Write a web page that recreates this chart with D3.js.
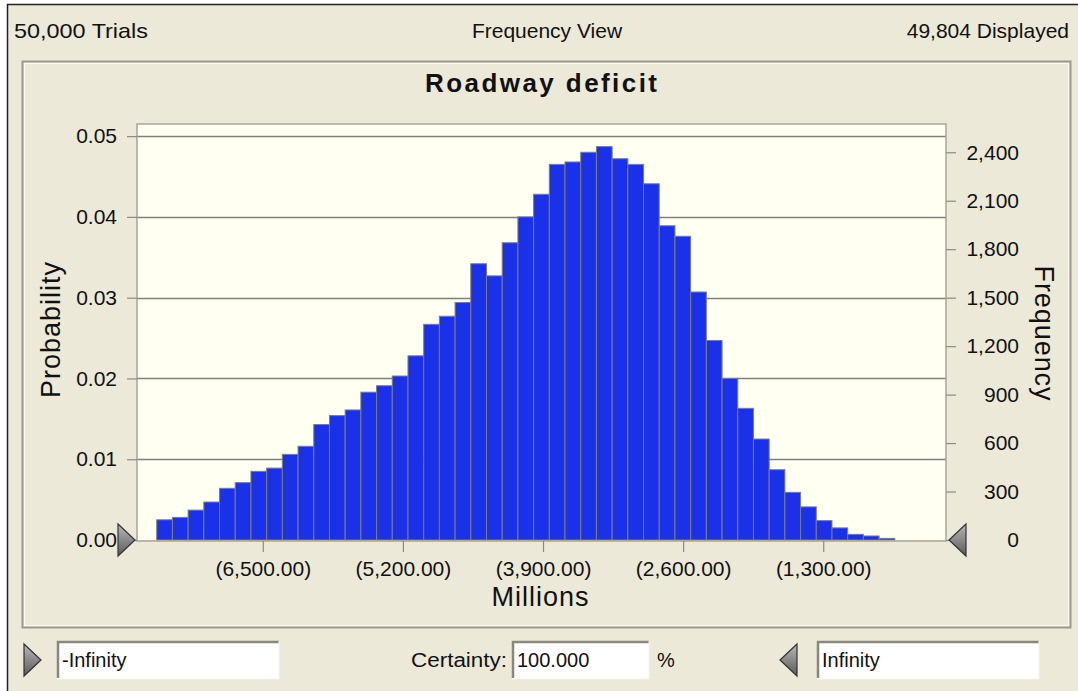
<!DOCTYPE html>
<html>
<head>
<meta charset="utf-8">
<script src="https://cdn.jsdelivr.net/npm/d3@7"></script>
<style>
  body { margin: 0; background: #fff; }
  text { font-family: "Liberation Sans", Arial, sans-serif; fill: #111; }
</style>
</head>
<body>
<script>
// histogram of the simulated deficit (probability per bin)
const probabilities = [
  0.0025, 0.0028, 0.0037, 0.0047, 0.0064, 0.0071, 0.0085, 0.0089, 0.0106, 0.0116,
  0.0143, 0.0154, 0.0161, 0.0183, 0.0191, 0.0203, 0.0228, 0.0267, 0.0277, 0.0294,
  0.0342, 0.0327, 0.0368, 0.0400, 0.0428, 0.0465, 0.0468, 0.0480, 0.0487, 0.0472,
  0.0465, 0.0441, 0.0389, 0.0376, 0.0307, 0.0247, 0.0200, 0.0163, 0.0125, 0.0087,
  0.0059, 0.0041, 0.0024, 0.0015, 0.0007, 0.0005, 0.0002
];
// bins (millions)
const binStart = -7484;
const binWidth = 145.7;
const xTicks = [-6500, -5200, -3900, -2600, -1300];
const probTicks = [0, 0.01, 0.02, 0.03, 0.04, 0.05];
const freqTicks = [0, 300, 600, 900, 1200, 1500, 1800, 2100, 2400];
const trials = 50000;
const headerTexts = ['50,000 Trials', 'Frequency View', '49,804 Displayed'];
const chartTitle = 'Roadway deficit';

const W = 1078, H = 691;
const plot = {left: 137, right: 946, top: 124, bottom: 540};

const svg = d3.select('body').append('svg')
  .attr('width', W)
  .attr('height', H);

// window background + dark edge
svg.append('rect').attr('x', 7).attr('y', 4).attr('width', W).attr('height', H)
  .attr('fill', '#ece9d8');
svg.append('path').attr('d', `M7.5,${H} V4.5 H${W}`)
  .attr('fill', 'none').attr('stroke', '#222').attr('stroke-width', 1.5);

// header line
const header = svg.append('g').style('font-size', '21px');
header.append('text').attr('x', 14).attr('y', 38).attr('textLength', 134).attr('lengthAdjust', 'spacingAndGlyphs').text(headerTexts[0]);
header.append('text').attr('x', 547).attr('y', 38).attr('text-anchor', 'middle').text(headerTexts[1]);
header.append('text').attr('x', 1069).attr('y', 38).attr('text-anchor', 'end').text(headerTexts[2]);

// panel frame
svg.append('rect').attr('x', 22.5).attr('y', 61.5).attr('width', 1048).attr('height', 566)
  .attr('fill', 'none').attr('stroke', '#9d9a8c').attr('stroke-width', 2);
svg.append('rect').attr('x', 24.5).attr('y', 63.5).attr('width', 1044).attr('height', 562)
  .attr('fill', 'none').attr('stroke', '#fbfaf4').attr('stroke-width', 1);

svg.append('text')
  .attr('x', 541).attr('y', 92)
  .attr('text-anchor', 'middle')
  .attr('textLength', 232)
  .style('font-size', '26px').style('font-weight', 'bold')
  .text(chartTitle);

// scales
const x = d3.scaleLinear().domain([-7667, -161]).range([plot.left, plot.right]);
const y = d3.scaleLinear().domain([0, 0.0515]).range([plot.bottom, plot.top]);
const yFreq = d3.scaleLinear().domain([0, 0.0515 * trials]).range([plot.bottom, plot.top]);

// plot background
svg.append('rect')
  .attr('x', plot.left).attr('y', plot.top)
  .attr('width', plot.right - plot.left).attr('height', plot.bottom - plot.top)
  .attr('fill', '#fffff2');

// gridlines
svg.append('g').selectAll('line')
  .data(probTicks.slice(1))
  .enter().append('line')
  .attr('x1', plot.left).attr('x2', plot.right)
  .attr('y1', (d) => Math.round(y(d)) + 0.5).attr('y2', (d) => Math.round(y(d)) + 0.5)
  .attr('stroke', '#7f7f7f').attr('stroke-width', 1.5);

// bars
svg.append('g').selectAll('rect')
  .data(probabilities)
  .enter().append('rect')
  .attr('x', (d, i) => x(binStart + i * binWidth))
  .attr('width', (d, i) => x(binStart + (i + 1) * binWidth) - x(binStart + i * binWidth))
  .attr('y', (d) => y(d))
  .attr('height', (d) => y(0) - y(d))
  .attr('fill', '#1b31e9')
  .attr('stroke', '#7d7d7d')
  .attr('stroke-width', 1);

// plot border
svg.append('rect')
  .attr('x', plot.left).attr('y', plot.top)
  .attr('width', plot.right - plot.left).attr('height', plot.bottom - plot.top + 1)
  .attr('fill', 'none').attr('stroke', '#a8a596').attr('stroke-width', 1.5);

const styleAxis = (g) => {
  g.select('.domain').remove();
  g.selectAll('line').attr('stroke', '#8a8a8a').attr('stroke-width', 1.2);
  g.selectAll('text').style('font-family', '"Liberation Sans", Arial, sans-serif').attr('fill', '#111');
};

// left axis
svg.append('g')
  .attr('transform', `translate(${plot.left},0)`)
  .call(d3.axisLeft(y).tickValues(probTicks).tickFormat(d3.format('.2f')).tickSize(10).tickPadding(10))
  .call(styleAxis)
  .selectAll('text').style('font-size', '21px');

// right axis
const right = svg.append('g')
  .attr('transform', `translate(${plot.right},0)`)
  .call(d3.axisRight(yFreq).tickValues(freqTicks).tickFormat(d3.format(',')).tickSize(10))
  .call(styleAxis);
right.selectAll('text')
  .style('font-size', '21px')
  .attr('text-anchor', 'end')
  .attr('x', 73);

// bottom axis
svg.append('g')
  .attr('transform', `translate(0,${plot.bottom + 1})`)
  .call(d3.axisBottom(x).tickValues(xTicks)
    .tickFormat((v) => `(${d3.format(',.2f')(-v)})`)
    .tickSize(11).tickPadding(9))
  .call(styleAxis)
  .selectAll('text').style('font-size', '21px');

// axis titles
svg.append('text')
  .attr('transform', 'translate(60,330) rotate(-90)')
  .attr('text-anchor', 'middle')
  .attr('textLength', 136)
  .style('font-size', '27px')
  .text('Probability');

svg.append('text')
  .attr('transform', 'translate(1035,333) rotate(90)')
  .attr('text-anchor', 'middle')
  .attr('textLength', 135)
  .style('font-size', '27px')
  .text('Frequency');

svg.append('text')
  .attr('x', 540).attr('y', 606)
  .attr('text-anchor', 'middle')
  .attr('textLength', 97)
  .style('font-size', '27px')
  .text('Millions');

// grab handles
const grad = svg.append('defs').append('linearGradient')
  .attr('id', 'handle').attr('x1', 0).attr('y1', 0).attr('x2', 0).attr('y2', 1);
grad.append('stop').attr('offset', '0%').attr('stop-color', '#b8b8b8');
grad.append('stop').attr('offset', '100%').attr('stop-color', '#5a5a5a');

const handle = (x0, yc, dir) => {
  const tip = x0 + dir * 17;
  svg.append('path')
    .attr('d', `M${x0},${yc - 16} L${tip},${yc} L${x0},${yc + 16} Z`)
    .attr('fill', 'url(#handle)')
    .attr('stroke', '#333').attr('stroke-width', 1.2);
};
handle(118, 540, 1);
handle(966, 540, -1);
handle(24, 660, 1);
handle(797, 660, -1);

// bottom inputs
const inputBox = (x0, w, label) => {
  const g = svg.append('g');
  g.append('rect').attr('x', x0).attr('y', 641).attr('width', w).attr('height', 38).attr('fill', '#fff');
  g.append('path').attr('d', `M${x0 + 1},678 V642 H${x0 + w}`)
    .attr('fill', 'none').attr('stroke', '#8a887c').attr('stroke-width', 2.5);
  g.append('path').attr('d', `M${x0},679 H${x0 + w} V641`)
    .attr('fill', 'none').attr('stroke', '#f6f5ef').attr('stroke-width', 1);
  g.append('text').attr('x', x0 + 5).attr('y', 667).style('font-size', '20px').text(label);
};
inputBox(57, 222, '-Infinity');
inputBox(512, 137, '100.000');
inputBox(817, 222, 'Infinity');

svg.append('text').attr('x', 507).attr('y', 667).attr('text-anchor', 'end')
  .attr('textLength', 96).attr('lengthAdjust', 'spacingAndGlyphs')
  .style('font-size', '20px').text('Certainty:');
svg.append('text').attr('x', 657).attr('y', 667)
  .style('font-size', '20px').text('%');
</script>
</body>
</html>
